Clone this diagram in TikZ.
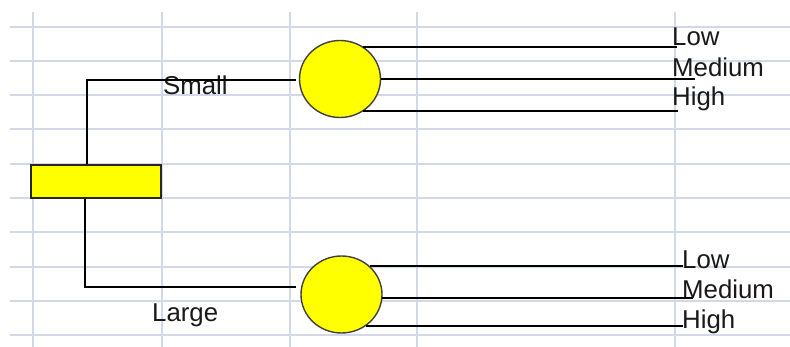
\documentclass[tikz,border=0pt]{standalone}
\usepackage{fontspec}
\setmainfont{Liberation Sans}
\usetikzlibrary{shapes.geometric,calc}
\definecolor{gridc}{RGB}{210,216,232}
\definecolor{ylw}{RGB}{255,255,0}
\begin{document}
\begin{tikzpicture}[x=1pt,y=-1pt,
  gridline/.style={draw=gridc,line width=1.6pt},
  conn/.style={draw=black,line width=1.8pt},
  boxnode/.style={draw=black!85,line width=1.4pt,fill=ylw,minimum width=130pt,minimum height=33pt,inner sep=0pt},
  ballnode/.style={ellipse,draw=black!75,line width=1.4pt,fill=ylw,minimum width=81pt,minimum height=77pt,inner sep=0pt},
  lbl/.style={inner sep=0pt,anchor=base west,font=\fontsize{25.8}{30}\selectfont,text=black!90}]
\useasboundingbox (0,0) rectangle (790,347);
\fill[white] (0,0) rectangle (790,347);
% grid
\foreach \y in {27,61,95,129,164,198,232,267,301,335}
  \draw[gridline] (10,\y) -- (790,\y);
\foreach \x in {33,162,290,417,675}
  \draw[gridline] (\x,12) -- (\x,347);
% nodes
\node[boxnode] (rect) at (96,181.5) {};
\node[ballnode] (c1) at (340,79) {};
\node[ballnode] (c2) at (341.5,294.5) {};
\node[lbl] (small) at (163,95) {Small};
\node[lbl] (large) at (152,322) {Large};
\node[lbl] (l1) at (672,46) {Low};
\node[lbl] (m1) at (672,77) {Medium};
\node[lbl] (h1) at (672,106) {High};
\node[lbl] (l2) at (682,269) {Low};
\node[lbl] (m2) at (682,299) {Medium};
\node[lbl] (h2) at (682,329) {High};
% connectors from the box
\draw[conn] ($(rect.north)+(-9,0)$) |- ($(c1.west)+(-3,1)$);
\draw[conn] ($(rect.south)+(-11,0)$) |- ($(c2.west)+(-4,-7.5)$);
% top fan
\coordinate (a1) at ($(c1.center)+(23,-32)$);
\coordinate (a2) at ($(c1.center)+(40.5,0)$);
\coordinate (a3) at ($(c1.center)+(23,32)$);
\draw[conn] (a1) -- ($(a1 -| l1.west)+(5,0)$);
\draw[conn] (a2) -- ($(a2 -| m1.west)+(23,0)$);
\draw[conn] (a3) -- ($(a3 -| h1.west)+(6,0)$);
% bottom fan
\coordinate (b1) at ($(c2.center)+(28,-28.5)$);
\coordinate (b2) at ($(c2.center)+(40.3,3.5)$);
\coordinate (b3) at ($(c2.center)+(24,31.5)$);
\draw[conn] (b1) -- ($(b1 -| l2.west)+(1,0)$);
\draw[conn] (b2) -- ($(b2 -| m2.west)+(11,0)$);
\draw[conn] (b3) -- ($(b3 -| h2.west)+(1,0)$);
\end{tikzpicture}
\end{document}
